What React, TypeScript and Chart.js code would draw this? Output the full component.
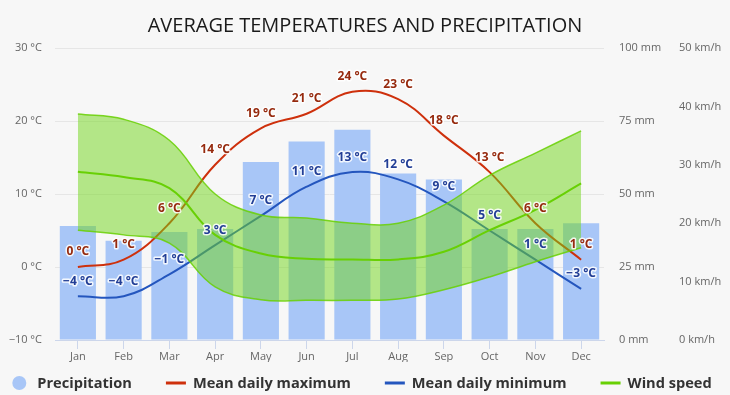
import React, { useEffect, useRef } from 'react';
import { Chart, registerables } from 'chart.js';

Chart.register(...registerables);

const months = ['Jan', 'Feb', 'Mar', 'Apr', 'May', 'Jun', 'Jul', 'Aug', 'Sep', 'Oct', 'Nov', 'Dec'];
const precipitation = [39, 34, 37, 38, 61, 68, 72, 57, 55, 38, 38, 40];
const tempMax = [0, 1, 6, 14, 19, 21, 24, 23, 18, 13, 6, 1];
const tempMin = [-4, -4, -1, 3, 7, 11, 13, 12, 9, 5, 1, -3];
const windSpeed = [28.8, 27.9, 26, 18, 14.8, 13.9, 13.8, 13.8, 15.1, 18.8, 22.3, 26.8];
const windHigh = [38.7, 37.8, 34.2, 25, 21.4, 20.9, 20, 20, 23.1, 28.2, 32, 35.8];
const windLow = [18.8, 18, 16.6, 9.1, 6.9, 6.8, 6.8, 7, 8.6, 10.8, 13.4, 15.8];

const FONT = "'Open Sans', sans-serif";
const BAR = 'rgb(168,198,247)';
const RED = 'rgb(206,48,12)';
const BLUE = 'rgb(36,86,190)';
const GREEN = 'rgb(104,208,4)';
const TENSION = 0.4;

function fmtTemp(v: number) {
  return (v < 0 ? '\u2212' + Math.abs(v) : String(v)) + ' °C';
}

const bgPlugin = {
  id: 'bg',
  beforeDraw(chart: any) {
    const { ctx, width, height } = chart;
    ctx.save();
    ctx.fillStyle = '#f7f7f7';
    ctx.fillRect(0, 0, width, height);
    ctx.restore();
  },
};

const labelPlugin = {
  id: 'pointLabels',
  afterDatasetsDraw(chart: any) {
    const ctx = chart.ctx;
    chart.data.datasets.forEach((ds: any, di: number) => {
      if (!ds.labelColor) return;
      const meta = chart.getDatasetMeta(di);
      ctx.save();
      ctx.font = `bold 12px ${FONT}`;
      ctx.textAlign = 'center';
      ctx.textBaseline = 'middle';
      ctx.lineJoin = 'round';
      ctx.lineWidth = 3;
      ctx.strokeStyle = 'rgba(255,255,255,0.85)';
      meta.data.forEach((el: any, i: number) => {
        const t = fmtTemp(ds.data[i]);
        const x = el.x;
        const y = el.y - 15;
        ctx.strokeText(t, x, y);
        ctx.fillStyle = ds.labelColor;
        ctx.fillText(t, x, y);
      });
      ctx.restore();
    });
  },
};

const legendPlugin = {
  id: 'customLegend',
  afterDraw(chart: any) {
    const ctx = chart.ctx;
    const items = chart.data.datasets.filter((d: any) => d.inLegend);
    ctx.save();
    ctx.font = `bold 14.6px ${FONT}`;
    ctx.textBaseline = 'middle';
    ctx.textAlign = 'left';
    const y = 383;
    const gap = 34;
    const widths = items.map((it: any) =>
      (it.type === 'bar' ? 25 : 27) + ctx.measureText(it.label).width
    );
    const total = widths.reduce((a: number, b: number) => a + b, 0) + gap * (items.length - 1);
    let x = chart.width / 2 - 3 - total / 2;
    items.forEach((it: any, i: number) => {
      if (it.type === 'bar') {
        ctx.fillStyle = it.backgroundColor;
        ctx.beginPath();
        ctx.arc(x + 7, y, 7, 0, Math.PI * 2);
        ctx.fill();
        ctx.fillStyle = '#333333';
        ctx.fillText(it.label, x + 25, y + 1);
      } else {
        ctx.strokeStyle = it.borderColor;
        ctx.lineWidth = 3;
        ctx.beginPath();
        ctx.moveTo(x, y);
        ctx.lineTo(x + 20, y);
        ctx.stroke();
        ctx.fillStyle = '#333333';
        ctx.fillText(it.label, x + 27, y + 1);
      }
      x += widths[i] + gap;
    });
    ctx.restore();
  },
};

export default function App() {
  const ref = useRef<HTMLCanvasElement | null>(null);

  useEffect(() => {
    document.body.style.margin = '0';
    const canvas = ref.current;
    if (!canvas) return;
    const chart = new Chart(canvas, {
      type: 'bar',
      data: {
        labels: months,
        datasets: [
          {
            type: 'bar',
            label: 'Precipitation',
            data: precipitation,
            yAxisID: 'yP',
            backgroundColor: BAR,
            barPercentage: 0.79,
            categoryPercentage: 1,
            order: 10,
            inLegend: true,
          } as any,
          {
            type: 'line',
            label: 'Mean daily maximum',
            data: tempMax,
            yAxisID: 'yT',
            borderColor: RED,
            borderWidth: 2,
            pointRadius: 0,
            tension: TENSION,
            fill: false,
            order: 9,
            inLegend: true,
            labelColor: 'rgb(150,42,14)',
          } as any,
          {
            type: 'line',
            label: 'Mean daily minimum',
            data: tempMin,
            yAxisID: 'yT',
            borderColor: BLUE,
            borderWidth: 2,
            pointRadius: 0,
            tension: TENSION,
            fill: false,
            order: 8,
            inLegend: true,
            labelColor: 'rgb(34,62,150)',
          } as any,
          {
            type: 'line',
            label: 'Wind speed',
            data: windSpeed,
            yAxisID: 'yW',
            borderColor: GREEN,
            borderWidth: 2,
            pointRadius: 0,
            tension: TENSION,
            fill: false,
            order: 5,
            inLegend: true,
          } as any,
          {
            type: 'line',
            label: 'Wind high',
            data: windHigh,
            yAxisID: 'yW',
            borderColor: 'rgba(104,208,4,0.85)',
            borderWidth: 1.5,
            backgroundColor: 'rgba(112,214,24,0.5)',
            pointRadius: 0,
            tension: TENSION,
            fill: '+1',
            order: 7,
          } as any,
          {
            type: 'line',
            label: 'Wind low',
            data: windLow,
            yAxisID: 'yW',
            borderColor: 'rgba(104,208,4,0.85)',
            borderWidth: 1.5,
            pointRadius: 0,
            tension: TENSION,
            fill: false,
            order: 6,
          } as any,
        ],
      },
      options: {
        animation: false,
        responsive: true,
        maintainAspectRatio: false,
        events: [],
        layout: { padding: { top: 0, left: 0, right: 0, bottom: 33 } },
        plugins: {
          legend: { display: false },
          tooltip: { enabled: false },
          title: {
            display: true,
            text: 'AVERAGE TEMPERATURES AND PRECIPITATION',
            color: '#1a1a1a',
            font: { family: FONT, size: 20, weight: 'normal', lineHeight: 1.2 },
            padding: { top: 14, bottom: 10 },
          },
        },
        scales: {
          x: {
            type: 'category',
            offset: true,
            grid: {
              drawOnChartArea: false,
              offset: false,
              drawTicks: true,
              tickLength: 9,
              color: '#ccd6eb',
            },
            border: { display: true, color: '#ccd6eb' },
            ticks: { color: '#666666', font: { family: FONT, size: 11 }, padding: 1, maxRotation: 0 },
            afterFit: (s: any) => { s.height = 22; },
          },
          yT: {
            type: 'linear',
            position: 'left',
            min: -10,
            max: 30,
            ticks: {
              stepSize: 10,
              color: '#666666',
              font: { family: FONT, size: 11 },
              padding: 13,
              callback: (v: any) => fmtTemp(Number(v)),
            },
            grid: { color: '#e6e6e6', drawTicks: false },
            border: { display: false },
            afterFit: (s: any) => { s.width = 55; },
          },
          yP: {
            type: 'linear',
            position: 'right',
            min: 0,
            max: 100,
            ticks: {
              stepSize: 25,
              color: '#666666',
              font: { family: FONT, size: 11 },
              padding: 15,
              callback: (v: any) => `${v} mm`,
            },
            grid: { drawOnChartArea: false, drawTicks: false },
            border: { display: false },
            afterFit: (s: any) => { s.width = 66; },
          },
          yW: {
            type: 'linear',
            position: 'right',
            min: 0,
            max: 50,
            ticks: {
              stepSize: 10,
              color: '#666666',
              font: { family: FONT, size: 11 },
              padding: 9,
              callback: (v: any) => `${v} km/h`,
            },
            grid: { drawOnChartArea: false, drawTicks: false },
            border: { display: false },
            afterFit: (s: any) => { s.width = 60; },
          },
        },
      } as any,
      plugins: [bgPlugin, labelPlugin, legendPlugin],
    });
    return () => chart.destroy();
  }, []);

  return (
    <div style={{ position: 'fixed', left: 0, top: 0, width: 730, height: 395 }}>
      <canvas ref={ref} />
    </div>
  );
}
